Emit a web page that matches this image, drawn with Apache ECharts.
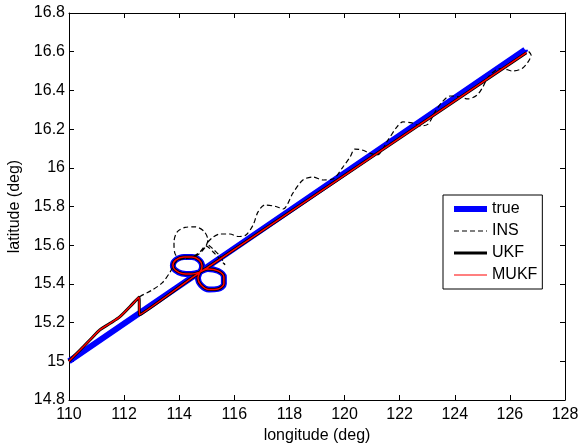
<!DOCTYPE html>
<html>
<head>
<meta charset="utf-8">
<script src="https://cdn.jsdelivr.net/npm/echarts/dist/echarts.min.js"></script>
<style>
  html, body { margin: 0; padding: 0; background: #fff; }
  #chart { width: 581px; height: 448px; }
</style>
</head>
<body>
<div id="chart"></div>
<script>
// axis ranges / ticks
var lonMin = 110, lonMax = 128, lonStep = 2
var latMin = 14.8, latMax = 16.8, latStep = 0.2

// true track: straight run, figure-eight at ~114.75E, straight run
var trueStart = [[110.0, 15.0], [114.45, 15.433]]
var loop1 = [[114.75, 15.461], [114.83, 15.493], [114.72, 15.524], [114.46, 15.539], [114.17, 15.539],
  [113.88, 15.524], [113.77, 15.495], [113.85, 15.472], [114.10, 15.454], [114.43, 15.451], [114.75, 15.461]]
var loop2 = [[114.68, 15.430], [114.79, 15.394], [115.08, 15.371], [115.41, 15.374], [115.62, 15.399],
  [115.62, 15.436], [115.41, 15.467], [115.04, 15.477], [114.75, 15.461]]
var trueEnd = [[115.05, 15.491], [126.55, 16.61]]

// filter start (shared by INS / UKF / MUKF) before the jump at 112.5E
var filterStart = [[110.0, 15.0], [110.04, 15.007], [110.52, 15.075], [110.82, 15.119], [111.12, 15.162],
  [111.49, 15.196], [111.85, 15.231], [112.21, 15.282], [112.54, 15.331]]
var ukfRest = [[112.56, 15.24], [114.45, 15.430]]
var ukfEnd = [[115.05, 15.487], [126.6, 16.595]]

// INS drift after 112.5E
var insRest = [[113.01, 15.368], [113.38, 15.405], [113.67, 15.461], [113.88, 15.513], [114.25, 15.534],
  [114.61, 15.544], [114.83, 15.570], [114.97, 15.596],
  [115.04, 15.627], [114.90, 15.672], [114.57, 15.695], [114.21, 15.692], [113.92, 15.668], [113.81, 15.615],
  [113.85, 15.555], [114.10, 15.529], [114.46, 15.539], [114.75, 15.565], [114.97, 15.596],
  [115.23, 15.565], [115.44, 15.534], [115.66, 15.498], [115.48, 15.544], [115.23, 15.580], [115.04, 15.611],
  [115.23, 15.642], [115.48, 15.658], [115.84, 15.658], [116.13, 15.645], [116.42, 15.653], [116.68, 15.704],
  [116.86, 15.772], [117.11, 15.808], [117.51, 15.800], [117.77, 15.787], [118.13, 15.870], [118.49, 15.937],
  [118.85, 15.952], [119.22, 15.937], [119.58, 15.942], [119.94, 16.004], [120.20, 16.056], [120.38, 16.097],
  [120.63, 16.092], [120.92, 16.076], [121.18, 16.066], [121.58, 16.144], [121.90, 16.211], [122.12, 16.237],
  [122.45, 16.232], [122.74, 16.216], [123.03, 16.226], [123.28, 16.288], [123.54, 16.340], [123.83, 16.371],
  [124.19, 16.366], [124.48, 16.356], [124.81, 16.376], [125.02, 16.418], [125.21, 16.469], [125.53, 16.508],
  [125.75, 16.513], [126.08, 16.500], [126.44, 16.513], [126.66, 16.547], [126.77, 16.583], [126.66, 16.604]]

var truePath = trueStart.concat(loop1, loop2, trueEnd)
var insPath = filterStart.concat(insRest)
var ukfPath = filterStart.concat(ukfRest, loop1, loop2, ukfEnd)

var font = 'Liberation Sans, Arial, sans-serif'

function makeAxis (min, max, step, pos, showLabel, name) {
  return {
    type: 'value',
    position: pos,
    min: min,
    max: max,
    interval: step,
    name: showLabel ? name : '',
    nameLocation: 'middle',
    nameGap: pos === 'bottom' ? 24 : 35,
    nameTextStyle: { color: '#000', fontSize: 16, fontFamily: font },
    axisLine: { show: true, onZero: false, lineStyle: { color: '#000', width: 1 } },
    axisTick: { show: true, inside: true, length: 5, lineStyle: { color: '#000' } },
    axisLabel: { show: showLabel, color: '#000', fontSize: 16, fontFamily: font, margin: pos === 'bottom' ? 7 : 4 },
    splitLine: { show: false }
  }
}

var myChart = echarts.init(document.getElementById('chart'))
var option = {
  animation: false,
  backgroundColor: '#fff',
  grid: { left: 69, right: 16, top: 13, bottom: 48, containLabel: false, outerBoundsMode: 'none' },
  xAxis: [
    makeAxis(lonMin, lonMax, lonStep, 'bottom', true, 'longitude (deg)'),
    makeAxis(lonMin, lonMax, lonStep, 'top', false)
  ],
  yAxis: [
    makeAxis(latMin, latMax, latStep, 'left', true, 'latitude (deg)'),
    makeAxis(latMin, latMax, latStep, 'right', false)
  ],
  legend: {
    orient: 'vertical',
    left: 443,
    top: 195,
    padding: [6, 5, 6, 8],
    itemWidth: 33,
    itemHeight: 14,
    itemGap: 6,
    borderColor: '#000',
    borderWidth: 1,
    backgroundColor: '#fff',
    itemStyle: { opacity: 0 },
    textStyle: { color: '#000', fontSize: 16, fontFamily: font, lineHeight: 16 },
    data: [
      { name: 'true', lineStyle: { width: 6 } },
      { name: 'INS', lineStyle: { width: 1.2 } },
      { name: 'UKF', lineStyle: { width: 3 } },
      { name: 'MUKF', lineStyle: { width: 1.2 } }
    ]
  },
  series: [
    {
      name: 'true', type: 'line', data: truePath, symbol: 'none', smooth: 0.35,
      lineStyle: { color: '#0000ff', width: 6 }, itemStyle: { color: '#0000ff' }
    },
    {
      name: 'INS', type: 'line', data: insPath, symbol: 'none', smooth: 0.3,
      lineStyle: { color: '#000', width: 1.2, type: [5, 3] }, itemStyle: { color: '#000' }
    },
    {
      name: 'UKF', type: 'line', data: ukfPath, symbol: 'none', smooth: 0.3,
      lineStyle: { color: '#000', width: 3 }, itemStyle: { color: '#000' }
    },
    {
      name: 'MUKF', type: 'line', data: ukfPath, symbol: 'none', smooth: 0.3,
      lineStyle: { color: '#ff0000', width: 1.5 }, itemStyle: { color: '#ff0000' }
    }
  ]
}
myChart.setOption(option)
</script>
</body>
</html>
